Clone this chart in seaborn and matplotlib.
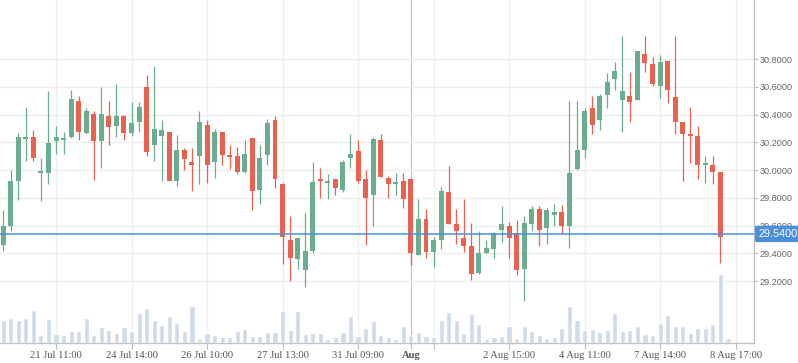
# Gráfico de velas japonesas con volumen y línea de precio actual

import numpy as np
import pandas as pd
import matplotlib
matplotlib.use("Agg")
import matplotlib.pyplot as plt
import matplotlib.transforms as mtransforms
import seaborn as sns

# datos (precios por vela)
apertura = [29.462, 29.599, 29.924, 30.227, 30.239, 29.982, 29.982, 30.213, 30.220, 30.239,
            30.499, 30.270, 30.405, 30.213, 30.391, 30.321, 30.391, 30.270, 30.350, 30.600,
            30.184, 30.249, 30.275, 29.924, 30.145, 30.059, 30.104, 30.326, 30.061, 30.275,
            30.102, 30.102, 29.989, 30.232, 29.859, 30.112, 30.362, 29.900, 29.495, 29.361,
            29.281, 29.418, 29.936, 29.910, 29.936, 29.859, 30.090, 30.138, 29.936, 29.823,
            30.218, 29.943, 29.902, 29.922, 29.936, 29.390, 29.647, 29.411, 29.498, 29.842,
            29.611, 29.510, 29.452, 29.260, 29.404, 29.433, 29.570, 29.597, 29.546, 29.288,
            29.613, 29.720, 29.585, 29.679, 29.698, 29.599, 30.011, 30.148, 30.449, 30.364,
            30.538, 30.653, 30.502, 30.535, 30.502, 30.839, 30.766, 30.603, 30.788, 30.528,
            30.347, 30.261, 30.246, 30.040, 30.037, 29.987, 29.540]
cierre = [29.597, 29.922, 30.239, 30.232, 30.090, 29.987, 30.196, 30.239, 30.232, 30.514,
          30.278, 30.427, 30.213, 30.405, 30.314, 30.391, 30.270, 30.340, 30.456, 30.133,
          30.297, 30.290, 29.924, 30.145, 30.083, 30.040, 30.347, 30.040, 30.275, 30.112,
          30.097, 29.989, 30.116, 29.852, 30.088, 30.340, 29.938, 29.520, 29.368, 29.510,
          29.416, 29.914, 29.924, 29.922, 29.873, 30.059, 30.116, 29.924, 29.801, 30.225,
          29.953, 29.902, 29.907, 29.794, 29.404, 29.647, 29.411, 29.495, 29.849, 29.613,
          29.563, 29.455, 29.252, 29.402, 29.438, 29.546, 29.611, 29.513, 29.281, 29.618,
          29.720, 29.570, 29.712, 29.698, 29.599, 29.979, 30.145, 30.427, 30.328, 30.535,
          30.636, 30.716, 30.571, 30.494, 30.860, 30.769, 30.624, 30.781, 30.574, 30.350,
          30.263, 30.249, 30.040, 30.052, 29.989, 29.520, 29.540]
maximo = [29.712, 30.001, 30.268, 30.456, 30.290, 30.088, 30.571, 30.316, 30.275, 30.579,
          30.535, 30.449, 30.427, 30.600, 30.499, 30.622, 30.398, 30.492, 30.492, 30.687,
          30.752, 30.362, 30.275, 30.254, 30.160, 30.160, 30.427, 30.362, 30.297, 30.275,
          30.181, 30.167, 30.218, 30.232, 30.181, 30.369, 30.391, 29.907, 29.669, 29.517,
          29.690, 30.059, 30.015, 29.972, 29.936, 30.073, 30.261, 30.218, 30.001, 30.239,
          30.261, 29.958, 29.979, 29.979, 29.936, 29.792, 29.720, 29.517, 29.878, 30.030,
          29.720, 29.792, 29.618, 29.560, 29.495, 29.553, 29.741, 29.626, 29.640, 29.669,
          29.741, 29.741, 29.727, 29.756, 29.748, 30.499, 30.499, 30.449, 30.535, 30.550,
          30.701, 30.781, 30.968, 30.709, 30.860, 30.968, 30.817, 30.831, 30.788, 30.968,
          30.347, 30.456, 30.319, 30.102, 30.102, 29.987, 29.540]
minimo = [29.418, 29.560, 29.787, 30.068, 30.068, 29.780, 29.902, 30.119, 30.119, 30.234,
          30.220, 30.263, 29.929, 30.018, 30.184, 30.242, 30.220, 30.249, 30.278, 30.104,
          30.068, 29.924, 29.924, 29.888, 30.003, 29.852, 29.902, 29.910, 29.946, 30.040,
          30.011, 29.974, 29.982, 29.712, 29.758, 30.040, 29.873, 29.325, 29.202, 29.288,
          29.159, 29.404, 29.801, 29.794, 29.823, 29.845, 30.018, 29.910, 29.462, 29.599,
          29.953, 29.801, 29.823, 29.729, 29.317, 29.390, 29.368, 29.303, 29.433, 29.613,
          29.469, 29.411, 29.209, 29.252, 29.404, 29.368, 29.484, 29.368, 29.245, 29.058,
          29.563, 29.455, 29.469, 29.599, 29.549, 29.440, 30.003, 30.090, 30.263, 30.292,
          30.451, 30.579, 30.278, 30.350, 30.502, 30.704, 30.603, 30.523, 30.480, 30.263,
          29.924, 30.054, 29.938, 29.910, 29.902, 29.332, 29.540]
volumen = [68, 74, 68, 74, 98, 23, 71, 26, 23, 35,
           35, 74, 23, 47, 38, 29, 47, 35, 89, 104,
           68, 53, 80, 59, 35, 110, 14, 29, 23, 17,
           17, 35, 41, 20, 20, 32, 32, 95, 38, 95,
           26, 29, 29, 11, 17, 32, 80, 20, 44, 65,
           23, 17, 11, 50, 23, 32, 20, 17, 68, 92,
           68, 29, 86, 56, 11, 17, 20, 50, 14, 50,
           35, 23, 14, 17, 44, 110, 68, 38, 41, 32,
           38, 89, 35, 38, 50, 26, 23, 59, 83, 50,
           50, 29, 44, 44, 56, 206, 14]

# etiquetas del eje de tiempo (posición = número de vela)
pos_ticks = [7, 17, 27, 37, 47, 54, 57, 67, 77, 87, 97]
etiquetas_ticks = ['21 Jul 11:00', '24 Jul 14:00', '26 Jul 10:00', '27 Jul 13:00',
                   '31 Jul 09:00', 'Aug', '', '2 Aug 15:00', '4 Aug 11:00',
                   '7 Aug 14:00', '8 Aug 17:00']
niveles_precio = [29.2, 29.4, 29.6, 29.8, 30.0, 30.2, 30.4, 30.6, 30.8]
precio_actual = 29.54

VERDE = '#6AAE8F'
ROJO = '#EB6150'
AZUL = '#4A8FD9'


def dibujar_velas(ax, df, ancho=0.66):
    """
    Dibuja las velas (mechas y cuerpos) sobre el eje indicado.

    Parameters:
        ax (matplotlib.axes.Axes): eje donde dibujar.
        df (pandas.DataFrame): datos con apertura, cierre, maximo y minimo.
        ancho (float): ancho del cuerpo de cada vela.
    """
    colores = np.where(df['cierre'] >= df['apertura'], VERDE, ROJO)
    ax.vlines(df['idx'], df['minimo'], df['maximo'], colors=colores, lw=0.9, zorder=3)
    base = np.minimum(df['apertura'], df['cierre'])
    alto = (df['cierre'] - df['apertura']).abs()
    # los doji se ven como una rayita, salvo la vela sin movimiento (la actual)
    alto = np.where(df['maximo'] > df['minimo'], np.maximum(alto, 0.012), 0)
    ax.bar(df['idx'], alto, bottom=base, width=ancho, color=colores, zorder=4, linewidth=0)


df = pd.DataFrame({'apertura': apertura, 'cierre': cierre, 'maximo': maximo,
                   'minimo': minimo, 'volumen': volumen})
df['idx'] = np.arange(len(df))

sns.set_theme(style='white')
plt.rcParams['font.family'] = ['Liberation Sans', 'DejaVu Sans']

fig = plt.figure(figsize=(7.98, 3.63), dpi=100)
ax = fig.add_axes([0, 20.5 / 363, 754 / 798, 342.5 / 363])

# volumen en un eje gemelo
ax_vol = ax.twinx()
sns.barplot(data=df, x='idx', y='volumen', native_scale=True, width=0.68,
            color='#CFDBEB', saturation=1, errorbar=None, ax=ax_vol, zorder=1)
ax_vol.set_ylim(0, df['volumen'].max() * 4.99)
ax_vol.set_axis_off()

dibujar_velas(ax, df)

ax.set_xlim(-0.42, 99.44)
ax.set_ylim(28.757, 31.226)
ax.yaxis.tick_right()
ax.set_yticks(niveles_precio)
ax.set_yticklabels([f'{v:.4f}' for v in niveles_precio], fontsize=6.6, color='#666666')
ax.set_xticks(pos_ticks)
ax.set_xticklabels(etiquetas_ticks, family=['Liberation Serif', 'DejaVu Serif'],
                   fontsize=7.6, color='#555555')
ax.tick_params(axis='x', length=4, width=0.8, color='#C0C0C0', pad=2, bottom=True)
ax.tick_params(axis='y', length=3, width=0.8, color='#C0C0C0', pad=1, right=True, left=False)
ax.grid(True, color='#EEEEEE', lw=1, zorder=0)
ax.set_axisbelow(True)

# la línea de "Aug" es más oscura y su etiqueta va en negrita
for tick, linea, texto in zip(pos_ticks, ax.xaxis.get_gridlines(), ax.get_xticklabels()):
    if tick == 54:
        linea.set_color('#C8C8C8')
        texto.set_fontweight('bold')

for lado in ['top', 'left']:
    ax.spines[lado].set_visible(False)
for lado in ['bottom', 'right']:
    ax.spines[lado].set_color('#C0C0C0')
    ax.spines[lado].set_linewidth(1)
ax.set_xlabel('')
ax.set_ylabel('')

# precio actual
ax.axhline(precio_actual, color=AZUL, lw=1.1, zorder=6)
trans = mtransforms.blended_transform_factory(ax.transAxes, ax.transData)
ax.text(1.0055, precio_actual, f'{precio_actual:.4f}', transform=trans, ha='left', va='center',
        color='white', fontsize=7.8, clip_on=False, zorder=10,
        bbox=dict(boxstyle='round,pad=0.3,rounding_size=0.2', fc=AZUL, ec='none'))

fig.savefig('out.png', dpi=100, facecolor='white')
